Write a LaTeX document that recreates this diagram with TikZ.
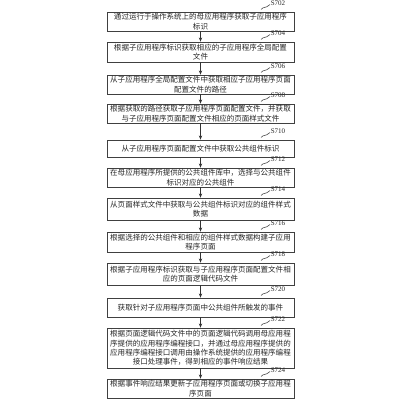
\documentclass[tikz,border=0pt]{standalone}
\usepackage{fontspec}
\newfontfamily\cjk{Noto Sans CJK SC}
\newfontfamily\lbl{Liberation Serif}
\usetikzlibrary{arrows.meta}
\newcommand\pxu{0.025cm}
\tikzset{
  box/.style={draw=black!75, line width=0.5pt, rectangle, inner sep=0pt,
    minimum width=187*\pxu, align=center, text=black!85,
    font=\cjk\fontsize{5.35}{6.6}\selectfont},
  flow/.style={draw=black!80, line width=0.5pt, -{Stealth[length=3pt,width=2.4pt]}},
  wave/.style={draw=black!75, line width=0.4pt},
  steplbl/.style={anchor=west, inner sep=0pt, text=black!85, font=\lbl\fontsize{5}{6}\selectfont}
}
\newcommand\steptag[3]{% name, top y, text
  \draw[wave] (261,#2-2.5) .. controls (264,#2-6) and (265,#2-3) .. (270,#2-7.5);
  \node[steplbl] (#1) at (270.5,#2-8.5) {#3};
}
\begin{document}
\begin{tikzpicture}[x=0.025cm,y=-0.025cm]
\useasboundingbox (0,0) rectangle (400,400);
\node[box, minimum height=19*\pxu] (b1) at (200.5,21.5) {通过运行于操作系统上的母应用程序获取子应用程序\\标识};
\node[box, minimum height=20*\pxu] (b2) at (200.5,52) {根据子应用程序标识获取相应的子应用程序全局配置\\文件};
\node[box, minimum height=19*\pxu] (b3) at (200.5,84.5) {从子应用程序全局配置文件中获取相应子应用程序页面\\配置文件的路径};
\node[box, minimum height=19*\pxu] (b4) at (200.5,113.5) {根据获取的路径获取子应用程序页面配置文件，并获取\\与子应用程序页面配置文件相应的页面样式文件};
\node[box, minimum height=17*\pxu] (b5) at (200.5,148.5) {从子应用程序页面配置文件中获取公共组件标识};
\node[box, minimum height=19*\pxu] (b6) at (200.5,177.5) {在母应用程序所提供的公共组件库中，选择与公共组件\\标识对应的公共组件};
\node[box, minimum height=22*\pxu] (b7) at (200.5,209) {从页面样式文件中获取与公共组件标识对应的组件样式\\数据};
\node[box, minimum height=20*\pxu] (b8) at (200.5,242) {根据选择的公共组件和相应的组件样式数据构建子应用\\程序页面};
\node[box, minimum height=22*\pxu] (b9) at (200.5,274) {根据子应用程序标识获取与子应用程序页面配置文件相\\应的页面逻辑代码文件};
\node[box, minimum height=19*\pxu] (b10) at (200.5,307.5) {获取针对子应用程序页面中公共组件所触发的事件};
\node[box, minimum height=40*\pxu] (b11) at (200.5,348) {根据页面逻辑代码文件中的页面逻辑代码调用母应用程\\序提供的应用程序编程接口，并通过母应用程序提供的\\应用程序编程接口调用由操作系统提供的应用程序编程\\接口处理事件，得到相应的事件响应结果};
\node[box, minimum height=19*\pxu] (b12) at (200.5,388.5) {根据事件响应结果更新子应用程序页面或切换子应用程\\序页面};
\foreach \a/\b in {b1/b2,b2/b3,b3/b4,b4/b5,b5/b6,b6/b7,b7/b8,b8/b9,b9/b10,b10/b11,b11/b12}
  \draw[flow] (\a.south) -- (\b.north);
\steptag{s702}{12}{S702}
\steptag{s704}{42}{S704}
\steptag{s706}{75}{S706}
\steptag{s708}{104}{S708}
\steptag{s710}{140}{S710}
\steptag{s712}{168}{S712}
\steptag{s714}{198}{S714}
\steptag{s716}{232}{S716}
\steptag{s718}{263}{S718}
\steptag{s720}{298}{S720}
\steptag{s722}{328}{S722}
\steptag{s724}{379}{S724}
\end{tikzpicture}
\end{document}
